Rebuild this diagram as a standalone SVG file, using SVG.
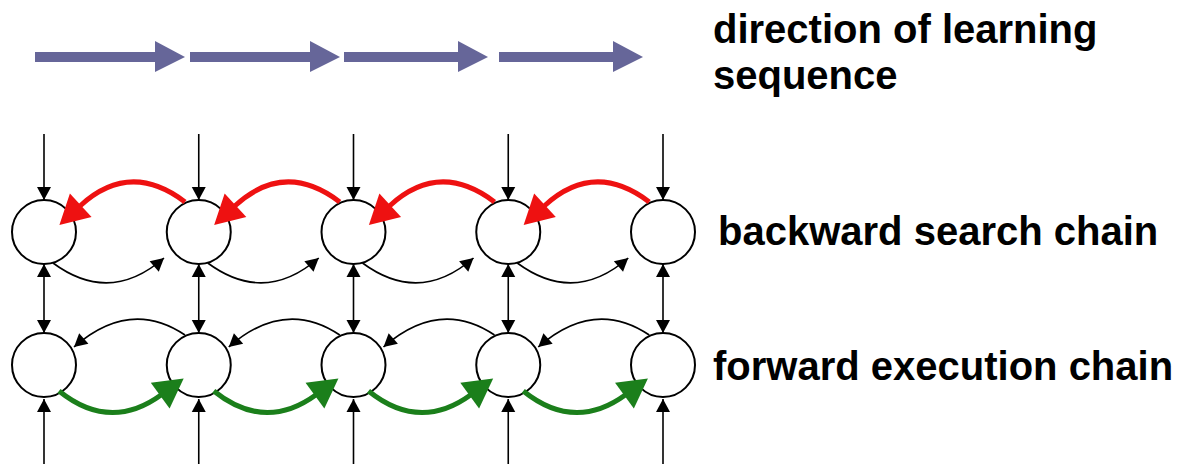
<svg xmlns="http://www.w3.org/2000/svg" width="1187" height="464" viewBox="0 0 1187 464">
<style>
.node{fill:#fff;stroke:#000;stroke-width:2}
.thin{fill:none;stroke:#000;stroke-width:1.6}
.red{fill:none;stroke:#EE1111;stroke-width:5}
.green{fill:none;stroke:#1B7F1B;stroke-width:5}
.dir{fill:#666699}
.lbl{font-family:"Liberation Sans",Arial,Helvetica,sans-serif;font-weight:bold;font-size:40px;fill:#000}
</style>
<defs>
<marker id="ah" markerUnits="userSpaceOnUse" markerWidth="14" markerHeight="14" refX="13" refY="7" orient="auto-start-reverse" overflow="visible">
<path d="M0,0 L13,7 L0,14 z" fill="#000"/>
</marker>
<marker id="ahRed" markerUnits="userSpaceOnUse" markerWidth="30" markerHeight="32" refX="1" refY="16" orient="auto" overflow="visible">
<path d="M0,0 L29,16 L0,32 z" fill="#EE1111"/>
</marker>
<marker id="ahGreen" markerUnits="userSpaceOnUse" markerWidth="30" markerHeight="32" refX="1" refY="16" orient="auto" overflow="visible">
<path d="M0,0 L29,16 L0,32 z" fill="#1B7F1B"/>
</marker>
</defs>

<g id="learning-direction" class="dir">
<path d="M35,52 L155,52 L155,41 L185,57 L155,72 L155,62 L35,62 z"/>
<path d="M190,52 L310,52 L310,41 L340,57 L310,72 L310,62 L190,62 z"/>
<path d="M344,52 L458,52 L458,41 L488,57 L458,72 L458,62 L344,62 z"/>
<path d="M499,52 L613,52 L613,41 L643,57 L613,72 L613,62 L499,62 z"/>
</g>

<g id="labels" class="lbl">
<text x="713" y="43">direction of learning</text>
<text x="713" y="89">sequence</text>
<text x="718" y="245">backward search chain</text>
<text x="713" y="380">forward execution chain</text>
</g>

<g id="b1"><circle class="node" cx="44" cy="232" r="32"/></g>
<g id="b2"><circle class="node" cx="198.75" cy="232" r="32"/></g>
<g id="b3"><circle class="node" cx="353.5" cy="232" r="32"/></g>
<g id="b4"><circle class="node" cx="508.25" cy="232" r="32"/></g>
<g id="b5"><circle class="node" cx="663" cy="232" r="32"/></g>
<g id="f1"><circle class="node" cx="44" cy="365" r="32"/></g>
<g id="f2"><circle class="node" cx="198.75" cy="365" r="32"/></g>
<g id="f3"><circle class="node" cx="353.5" cy="365" r="32"/></g>
<g id="f4"><circle class="node" cx="508.25" cy="365" r="32"/></g>
<g id="f5"><circle class="node" cx="663" cy="365" r="32"/></g>

<g id="connectors">
<g class="thin" marker-end="url(#ah)">
<line x1="44" y1="134" x2="44" y2="200"/>
<line x1="198.75" y1="134" x2="198.75" y2="200"/>
<line x1="353.5" y1="134" x2="353.5" y2="200"/>
<line x1="508.25" y1="134" x2="508.25" y2="200"/>
<line x1="663" y1="134" x2="663" y2="200"/>
</g>
<g class="thin" marker-start="url(#ah)" marker-end="url(#ah)">
<line x1="44" y1="264" x2="44" y2="333"/>
<line x1="198.75" y1="264" x2="198.75" y2="333"/>
<line x1="353.5" y1="264" x2="353.5" y2="333"/>
<line x1="508.25" y1="264" x2="508.25" y2="333"/>
<line x1="663" y1="264" x2="663" y2="333"/>
</g>
<g class="thin" marker-end="url(#ah)">
<line x1="44" y1="464" x2="44" y2="399"/>
<line x1="198.75" y1="464" x2="198.75" y2="399"/>
<line x1="353.5" y1="464" x2="353.5" y2="399"/>
<line x1="508.25" y1="464" x2="508.25" y2="399"/>
<line x1="663" y1="464" x2="663" y2="399"/>
</g>
<g class="red" marker-end="url(#ahRed)">
<path d="M185,202 Q130,160 80,206"/>
<path d="M339.75,202 Q284.75,160 234.75,206"/>
<path d="M494.5,202 Q439.5,160 389.5,206"/>
<path d="M649.25,202 Q594.25,160 544.25,206"/>
</g>
<g class="thin" marker-end="url(#ah)">
<path d="M53,263 Q110,305 164,258"/>
<path d="M207.75,263 Q264.75,305 318.75,258"/>
<path d="M362.5,263 Q419.5,305 473.5,258"/>
<path d="M517.25,263 Q574.25,305 628.25,258"/>
</g>
<g class="thin" marker-end="url(#ah)">
<path d="M185,335 Q130,298 74,347"/>
<path d="M339.75,335 Q284.75,298 228.75,347"/>
<path d="M494.5,335 Q439.5,298 383.5,347"/>
<path d="M649.25,335 Q594.25,298 538.25,347"/>
</g>
<g class="green" marker-end="url(#ahGreen)">
<path d="M59,391 Q110,432 161,395"/>
<path d="M213.75,391 Q264.75,432 315.75,395"/>
<path d="M368.5,391 Q419.5,432 470.5,395"/>
<path d="M523.25,391 Q574.25,432 625.25,395"/>
</g>
</g>
</svg>
